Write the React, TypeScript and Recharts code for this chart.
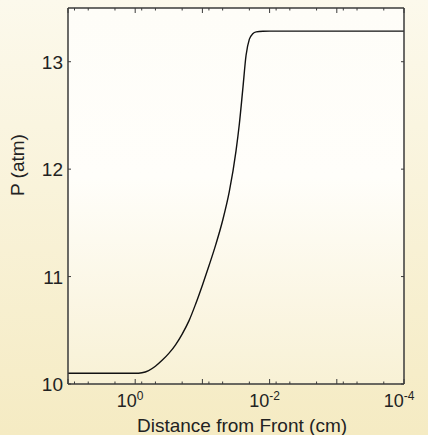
import { LineChart, Line, XAxis, YAxis, CartesianGrid } from "recharts";

// distance from front (cm) and pressure (atm)
const distance = [
  10, 3, 1.5, 1, 0.794, 0.631, 0.501, 0.398, 0.316, 0.251, 0.2, 0.158, 0.126,
  0.1, 0.0794, 0.0631, 0.0501, 0.0398, 0.0316, 0.0282, 0.0251, 0.0224, 0.02,
  0.0178, 0.0158, 0.0126, 0.01, 0.001, 0.0001,
];
const pressure = [
  10.1, 10.1, 10.1, 10.1, 10.105, 10.125, 10.165, 10.22, 10.285, 10.365, 10.465,
  10.59, 10.745, 10.92, 11.105, 11.3, 11.52, 11.79, 12.17, 12.42, 12.74, 13.06,
  13.21, 13.26, 13.278, 13.284, 13.285, 13.285, 13.285,
];

const decades = [10, 1, 0.1, 0.01, 0.001, 0.0001];
const minorMults = [8, 5, 2];
const labeledExponents = [0, -2, -4];
const pTicks = [10, 11, 12, 13];

const data = distance.map((x, i) => ({ x, p: pressure[i] }));

const xTicks: number[] = [];
decades.forEach((d) => {
  xTicks.push(d);
  if (d > 0.0001) minorMults.forEach((m) => xTicks.push((d / 10) * m));
});

const FONT = "'Liberation Sans', Arial, sans-serif";
const AXIS = "#3a3a3a";

const isMajor = (v: number) => {
  const e = Math.log10(v);
  return Math.abs(e - Math.round(e)) < 1e-6;
};

function BottomTick(props: any) {
  const { x, y, payload } = props;
  const v = payload.value as number;
  const major = isMajor(v);
  const exp = Math.round(Math.log10(v));
  return (
    <g>
      <line x1={x} x2={x} y1={y} y2={y - (major ? 5 : 2.5)} stroke={AXIS} strokeWidth={1} />
      {major && labeledExponents.includes(exp) && (
        <text x={x - 5} y={y + 23} textAnchor="middle" fontSize={18} fill="#222" fontFamily={FONT}>
          10
          <tspan dy={-7} fontSize={12}>
            {String(exp)}
          </tspan>
        </text>
      )}
    </g>
  );
}

function TopTick(props: any) {
  const { x, y, payload } = props;
  const major = isMajor(payload.value);
  return <line x1={x} x2={x} y1={y} y2={y + (major ? 5 : 2.5)} stroke={AXIS} strokeWidth={1} />;
}

function LeftTick(props: any) {
  const { x, y, payload } = props;
  return (
    <g>
      <line x1={x} x2={x + 3} y1={y} y2={y} stroke={AXIS} strokeWidth={1} />
      <text x={x - 5} y={y + 7} textAnchor="end" fontSize={19} fill="#222" fontFamily={FONT}>
        {payload.value}
      </text>
    </g>
  );
}

function RightTick(props: any) {
  const { x, y } = props;
  return <line x1={x} x2={x - 3} y1={y} y2={y} stroke={AXIS} strokeWidth={1} />;
}

export default function App() {
  return (
    <div
      style={{
        position: "absolute",
        left: 0,
        top: 0,
        width: 428,
        height: 435,
        background: "linear-gradient(#fcf9ec, #f5ebc3)",
      }}
    >
      <LineChart width={428} height={435} data={data} margin={{ top: 0, right: 0, bottom: 0, left: 0 }}>
        <defs>
          <linearGradient id="plotBg" x1="0" y1="0" x2="0" y2="1">
            <stop offset="0%" stopColor="#fefdf8" />
            <stop offset="45%" stopColor="#fffefa" />
            <stop offset="100%" stopColor="#f8f1d5" />
          </linearGradient>
        </defs>
        <CartesianGrid horizontal={false} vertical={false} fill="url(#plotBg)" stroke="none" xAxisId="b" yAxisId="l" />
        <XAxis
          xAxisId="b"
          dataKey="x"
          type="number"
          scale="log"
          domain={[0.0001, 10]}
          reversed
          allowDataOverflow
          ticks={xTicks}
          interval={0}
          height={51}
          tickSize={0}
          tickMargin={0}
          tickLine={false}
          tick={<BottomTick />}
          axisLine={{ stroke: AXIS, strokeWidth: 1.5 }}
          label={{ value: "Distance from Front (cm)", position: "insideBottom", offset: 3, fontSize: 19, fill: "#222", fontFamily: FONT, dx: 6 }}
        />
        <XAxis
          xAxisId="t"
          orientation="top"
          dataKey="x"
          type="number"
          scale="log"
          domain={[0.0001, 10]}
          reversed
          allowDataOverflow
          ticks={xTicks}
          interval={0}
          height={8}
          tickSize={0}
          tickMargin={0}
          tickLine={false}
          tick={<TopTick />}
          axisLine={{ stroke: AXIS, strokeWidth: 1.5 }}
        />
        <YAxis
          yAxisId="l"
          type="number"
          domain={[10, 13.5]}
          allowDataOverflow
          ticks={pTicks}
          interval={0}
          width={68}
          tickSize={0}
          tickMargin={0}
          tickLine={false}
          tick={<LeftTick />}
          axisLine={{ stroke: AXIS, strokeWidth: 1.5 }}
          label={{ value: "P (atm)", angle: -90, position: "insideLeft", offset: 17, fontSize: 19, fill: "#222", fontFamily: FONT }}
        />
        <YAxis
          yAxisId="r"
          orientation="right"
          type="number"
          domain={[10, 13.5]}
          allowDataOverflow
          ticks={pTicks}
          interval={0}
          width={24}
          tickSize={0}
          tickMargin={0}
          tickLine={false}
          tick={<RightTick />}
          axisLine={{ stroke: AXIS, strokeWidth: 1.5 }}
        />
        <Line
          xAxisId="b"
          yAxisId="l"
          type="monotone"
          dataKey="p"
          stroke="#111"
          strokeWidth={1.4}
          dot={false}
          isAnimationActive={false}
        />
      </LineChart>
    </div>
  );
}
